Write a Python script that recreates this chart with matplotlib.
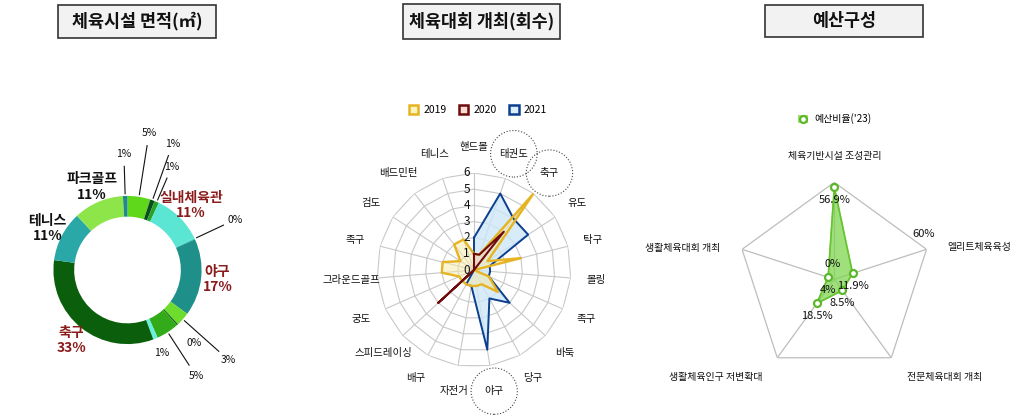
import numpy as np
import matplotlib
matplotlib.use('Agg')
import matplotlib.pyplot as plt
from matplotlib.patches import Rectangle, Patch
from matplotlib.lines import Line2D
from matplotlib import transforms

plt.rcParams['font.family'] = ['Noto Sans CJK KR', 'DejaVu Sans']

# 체육시설 면적 (12시 방향부터 시계방향)
area_values = [5, 1, 1, 11, 0.3, 17, 3, 0.3, 5, 1, 33, 11, 11, 1]
area_names = ['', '', '', '실내체육관', '', '야구', '', '', '', '', '축구', '테니스', '파크골프', '']
area_colors = ['#5fd81c', '#0b4d1f', '#27a327', '#5ae6d2', '#3fd8c8', '#1f8f8a', '#6edc2c',
               '#0b5e0b', '#33aa1a', '#66f0e0', '#0b5e0b', '#2aa8a8', '#8ee54a', '#1f8a8a']

# 체육대회 개최 회수
event_cats = ['핸드볼', '태권도', '축구', '유도', '탁구', '볼링', '족구', '바둑', '당구', '야구',
              '자전거', '배구', '스피드레이싱', '궁도', '그라운드골프', '족구', '검도', '배드민턴', '테니스']
events_2019 = [1, 1, 6, 1, 3, 0, 1, 2, 1, 1, 1, 1, 1, 1, 2, 2, 1, 2, 2]
events_2020 = [1, 1, 3, 0, 0, 0, 0, 0, 0, 0, 0, 0, 3, 0, 0, 0, 0, 0, 0]
events_2021 = [2, 5, 4, 4, 1, 1, 1, 3, 2, 5, 1, 1, 0, 0, 0, 0, 0, 0, 0]
highlight = [1, 2, 9]

# 예산구성
budget_cats = ['체육기반시설 조성관리', '엘리트체육육성', '전문체육대회 개최', '생활체육인구 저변확대', '생활체육대회 개최']
budget_vals = [56.9, 11.9, 8.5, 18.5, 4]

W, H = 1024, 420
fig = plt.figure(figsize=(W / 100, H / 100), dpi=100)
fig.patch.set_facecolor('white')


def px_rect(cx, cy, half):
    # axes rect from a centre given in pixels from the top
    return [(cx - half) / W, (H - cy - half) / H, 2 * half / W, 2 * half / H]


# title boxes
for x0, y0, x1, y1, txt in [(58, 5, 216, 38, '체육시설 면적(㎡)'),
                            (403, 4, 560, 39, '체육대회 개최(회수)'),
                            (765, 5, 923, 37, '예산구성')]:
    fig.add_artist(Rectangle((x0 / W, 1 - y1 / H), (x1 - x0) / W, (y1 - y0) / H,
                             transform=fig.transFigure, facecolor='#f2f2f2',
                             edgecolor='#333333', lw=1.2))
    fig.text((x0 + x1) / 2 / W, 1 - (y0 + y1) / 2 / H, txt, ha='center', va='center',
             fontsize=12.5, fontweight='bold', color='#111111')

# ---- donut ----
ax1 = fig.add_axes(px_rect(127.5, 270, 100))
ax1.pie(area_values, colors=area_colors, startangle=90, counterclock=False, radius=1,
        wedgeprops=dict(width=0.28, linewidth=0))
ax1.set_xlim(-1.35, 1.35)
ax1.set_ylim(-1.35, 1.35)
ax1.set_aspect('equal')
ax1.axis('off')

small_r = [1.87, 1.81, 1.52, None, 1.6, None, 1.82, 1.34, 1.7, 1.21, None, None, None, 1.57]
leaders = [0, 1, 2, 4, 6, 8, 13]
red_names = ['실내체육관', '야구', '축구']
total = sum(area_values)
cum = 0
for i, v in enumerate(area_values):
    mid = np.radians((cum + v / 2) / total * 360)
    cum += v
    pct = f'{round(v)}%'
    if area_names[i]:
        r = 1.22
        col = '#8b1c1c' if area_names[i] in red_names else '#111111'
        ax1.text(r * np.sin(mid), r * np.cos(mid), f'{area_names[i]}\n{pct}', ha='center',
                 va='center', fontsize=10, color=col, linespacing=1.1, fontweight='bold')
    else:
        r = small_r[i]
        ax1.text(r * np.sin(mid), r * np.cos(mid), pct, ha='center', va='center',
                 fontsize=7.5, color='#111111')
        if i in leaders:
            r0, r1 = 1.03, r - 0.17
            ax1.plot([r0 * np.sin(mid), r1 * np.sin(mid)], [r0 * np.cos(mid), r1 * np.cos(mid)],
                     color='#111111', lw=0.8, clip_on=False)

# ---- event radar ----
ax2 = fig.add_axes(px_rect(474, 270, 97), projection='polar')
ax2.set_theta_zero_location('N')
ax2.set_theta_direction(-1)
ax2.set_ylim(0, 6)
ax2.grid(False)
ax2.set_xticks([])
ax2.set_yticks([])
ax2.spines['polar'].set_visible(False)
ax2.patch.set_alpha(0)

n = len(event_cats)
ang = np.linspace(0, 2 * np.pi, n, endpoint=False)
closed = np.append(ang, ang[0])
for k in range(1, 7):
    ax2.plot(closed, [k] * (n + 1), color='#c8c8c8', lw=0.8, zorder=1)
for a in ang:
    ax2.plot([a, a], [0, 6], color='#c8c8c8', lw=0.8, zorder=1)

def close(vals):
    return list(vals) + [vals[0]]

ax2.fill(closed, close(events_2021), color='#cde6f7', alpha=0.8, zorder=2)
ax2.fill(closed, close(events_2019), color='#f7eaa8', alpha=0.5, zorder=3)
ax2.fill(closed, close(events_2020), color='#f2c9c0', alpha=0.4, zorder=3)
ax2.plot(closed, close(events_2021), color='#0d3f8f', lw=1.4, zorder=4)
ax2.plot(closed, close(events_2019), color='#e6b422', lw=1.7, zorder=5)
ax2.plot(closed, close(events_2020), color='#6e0c0c', lw=1.5, zorder=6)

tick_tr = transforms.offset_copy(ax2.transData, fig=fig, x=-4, y=0, units='dots')
for k in range(0, 7):
    ax2.text(0, k, str(k), transform=tick_tr, ha='right', va='center', fontsize=8.5,
             color='#111111', zorder=7)

for i, (a, name) in enumerate(zip(ang, event_cats)):
    kw = {}
    if i in highlight:
        pad = 0.85 if len(name) == 3 else 1.3
        kw['bbox'] = dict(boxstyle=f'circle,pad={pad}', fc='none', ec='#444444', ls=':', lw=0.8)
    ax2.text(a, 7.6, name, ha='center', va='center', fontsize=7.5, color='#111111', **kw)

fig.legend(handles=[Patch(facecolor='#fbf2c0', edgecolor='#e6b422', lw=1.8, label='2019'),
                    Patch(facecolor='#f6dcd5', edgecolor='#6e0c0c', lw=1.8, label='2020'),
                    Patch(facecolor='#dbeefa', edgecolor='#0d3f8f', lw=1.8, label='2021')],
           loc='center', bbox_to_anchor=(478 / W, 1 - 110 / H), ncol=3, frameon=False,
           fontsize=7.5, handlelength=0.9, handleheight=0.9, handletextpad=0.5, columnspacing=1.2)

# ---- budget radar ----
ax3 = fig.add_axes(px_rect(834.3, 279.3, 97), projection='polar')
ax3.set_theta_zero_location('N')
ax3.set_theta_direction(-1)
ax3.set_ylim(0, 60)
ax3.grid(False)
ax3.set_xticks([])
ax3.set_yticks([])
ax3.spines['polar'].set_visible(False)
ax3.patch.set_alpha(0)

m = len(budget_cats)
bang = np.linspace(0, 2 * np.pi, m, endpoint=False)
bclosed = np.append(bang, bang[0])
ax3.plot(bclosed, [60] * (m + 1), color='#bdbdbd', lw=0.9, zorder=1)
for a in bang:
    ax3.plot([a, a], [0, 60], color='#bdbdbd', lw=0.9, zorder=1)
ax3.fill(bclosed, close(budget_vals), color='#7fd650', alpha=0.75, zorder=2)
ax3.plot(bclosed, close(budget_vals), color='#66c22e', lw=1.2, zorder=3)
ax3.plot(bang, budget_vals, ls='none', marker='o', ms=5, mfc='white', mec='#5cb82a', mew=1.6,
         zorder=4)
for a, v in zip(bang, budget_vals):
    ax3.annotate(f'{v:g}%', xy=(a, v), xytext=(0, -13), textcoords='offset pixels',
                 ha='center', va='center', fontsize=8, color='#111111', zorder=5)

label_off = [((0, 26), 'center'), ((21, 2), 'left'), ((16, -19), 'left'),
             ((-15, -19), 'right'), ((-22, 1), 'right')]
for a, name, (off, ha) in zip(bang, budget_cats, label_off):
    ax3.annotate(name, xy=(a, 60), xytext=off, textcoords='offset pixels', ha=ha,
                 va='center', fontsize=7.2, color='#111111')
ax3.annotate('60%', xy=(bang[1], 60), xytext=(-3, 15), textcoords='offset pixels',
             ha='center', va='center', fontsize=8, color='#111111')
ax3.annotate('0%', xy=(0, 0), xytext=(-2, 15), textcoords='offset pixels',
             ha='center', va='center', fontsize=8, color='#111111')

fig.legend(handles=[(Patch(facecolor='#9ee070', edgecolor='none'),
                     Line2D([], [], ls='none', marker='o', ms=5, mfc='white', mec='#5cb82a', mew=1.6))],
           labels=["예산비율('23)"], loc='center', bbox_to_anchor=(835 / W, 1 - 119 / H),
           frameon=False, fontsize=7.2, handlelength=1.0, handleheight=0.9, handletextpad=0.6)

fig.savefig('out.png', dpi=100, facecolor='white')
